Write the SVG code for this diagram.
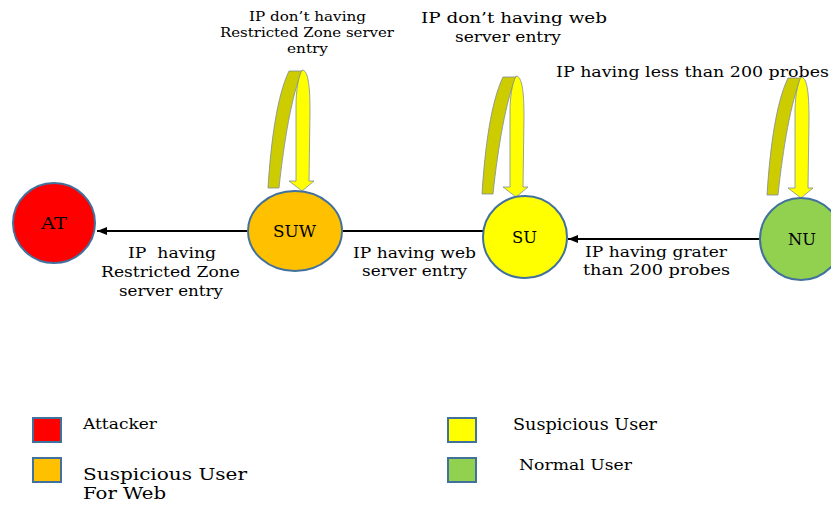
<svg xmlns="http://www.w3.org/2000/svg" xmlns:xlink="http://www.w3.org/1999/xlink" width="831" height="505" viewBox="0 0 831 505">
<style>
  .node { stroke: #41719C; stroke-width: 2; }
  text { font-family: "DejaVu Serif", "Liberation Serif", serif; fill: #000; }
  .edge { stroke: #000; stroke-width: 2; fill: none; }
  .back { fill: #CCCC00; stroke: #7F8C99; stroke-width: 0.8; }
  .front { fill: #FFFF00; stroke: #7F8C99; stroke-width: 0.8; }
  .leg { stroke: #41719C; stroke-width: 2; }
  .m { text-anchor: middle; }
</style>
<defs>
  <marker id="arr" viewBox="0 0 10 10" refX="10" refY="5" markerWidth="5" markerHeight="5" orient="auto" markerUnits="strokeWidth">
    <path d="M0,1 L10,5 L0,9 Z" fill="#000"/>
  </marker>
  <g id="loop">
    <path class="back" d="M-34,-3 C-31,-50 -25,-95 -13,-120 L0,-120 C-10,-97 -18,-50 -23,-3 Z"/>
    <path class="front" d="M0,-121 C6,-121 8,-106 8,-80 L7,-10 L12,-10 L0,0 L-13,-10 L-6,-10 L-6,-85 C-6,-100 -4,-113 0,-121 Z"/>
  </g>
</defs>
<rect width="831" height="505" fill="#fff"/>

<g id="connectors">
  <line class="edge" x1="247" y1="231" x2="97" y2="231" marker-end="url(#arr)"/>
  <line class="edge" x1="483" y1="231" x2="343" y2="231"/>
  <line class="edge" x1="760" y1="239" x2="568" y2="239" marker-end="url(#arr)"/>
  <use xlink:href="#loop" href="#loop" transform="translate(302,191)"/>
  <use xlink:href="#loop" href="#loop" transform="translate(516,197)"/>
  <use xlink:href="#loop" href="#loop" transform="translate(801,198)"/>
  <g font-size="12.5">
    <text class="m" x="307.5" y="21" textLength="117" lengthAdjust="spacingAndGlyphs">IP don’t having</text>
    <text class="m" x="307" y="37" textLength="174" lengthAdjust="spacingAndGlyphs">Restricted Zone server</text>
    <text class="m" x="307.5" y="53" textLength="41" lengthAdjust="spacingAndGlyphs">entry</text>
  </g>
  <g font-size="15.5">
    <text class="m" x="514" y="23" textLength="186" lengthAdjust="spacingAndGlyphs">IP don’t having web</text>
    <text class="m" x="508" y="42" textLength="106" lengthAdjust="spacingAndGlyphs">server entry</text>
    <text x="556" y="77" textLength="273" lengthAdjust="spacingAndGlyphs">IP having less than 200 probes</text>
  </g>
  <g font-size="15.5">
    <text class="m" x="172" y="258" textLength="88" lengthAdjust="spacingAndGlyphs" xml:space="preserve">IP  having</text>
    <text class="m" x="170.5" y="277" textLength="139" lengthAdjust="spacingAndGlyphs">Restricted Zone</text>
    <text class="m" x="171" y="296" textLength="104" lengthAdjust="spacingAndGlyphs">server entry</text>
  </g>
  <g font-size="15.5">
    <text class="m" x="414.5" y="258" textLength="123" lengthAdjust="spacingAndGlyphs">IP having web</text>
    <text class="m" x="414.5" y="276" textLength="105" lengthAdjust="spacingAndGlyphs">server entry</text>
  </g>
  <g font-size="15.5">
    <text class="m" x="656" y="257" textLength="142" lengthAdjust="spacingAndGlyphs">IP having grater</text>
    <text class="m" x="656.5" y="275" textLength="147" lengthAdjust="spacingAndGlyphs">than 200 probes</text>
  </g>
</g>

<g id="node-AT">
  <ellipse class="node" cx="54" cy="223" rx="41" ry="40" fill="#FF0000"/>
  <text class="m" font-size="16" x="54" y="229" textLength="26" lengthAdjust="spacingAndGlyphs">AT</text>
</g>
<g id="node-SUW">
  <ellipse class="node" cx="295" cy="231" rx="47" ry="40" fill="#FFC000"/>
  <text class="m" font-size="16" x="294.5" y="237" textLength="43" lengthAdjust="spacingAndGlyphs">SUW</text>
</g>
<g id="node-SU">
  <ellipse class="node" cx="525" cy="237" rx="42" ry="41" fill="#FFFF00"/>
  <text class="m" font-size="16" x="524.5" y="243" textLength="25" lengthAdjust="spacingAndGlyphs">SU</text>
</g>
<g id="node-NU">
  <ellipse class="node" cx="801" cy="239" rx="41" ry="41" fill="#92D050"/>
  <text class="m" font-size="16" x="802" y="245" textLength="28" lengthAdjust="spacingAndGlyphs">NU</text>
</g>

<g id="legend">
  <rect class="leg" x="33" y="418" width="28" height="24" fill="#FF0000"/>
  <text font-size="15.5" x="83" y="429" textLength="74" lengthAdjust="spacingAndGlyphs">Attacker</text>
  <rect class="leg" x="33" y="458" width="28" height="24" fill="#FFC000"/>
  <text font-size="16.5" x="83" y="480" textLength="164" lengthAdjust="spacingAndGlyphs">Suspicious User</text>
  <text font-size="16.5" x="83" y="499" textLength="83" lengthAdjust="spacingAndGlyphs">For Web</text>
  <rect class="leg" x="448" y="418" width="28" height="24" fill="#FFFF00"/>
  <text font-size="16.5" x="513" y="430" textLength="144" lengthAdjust="spacingAndGlyphs">Suspicious User</text>
  <rect class="leg" x="448" y="458" width="28" height="24" fill="#92D050"/>
  <text font-size="15.5" x="519" y="470" textLength="113" lengthAdjust="spacingAndGlyphs">Normal User</text>
</g>
</svg>
